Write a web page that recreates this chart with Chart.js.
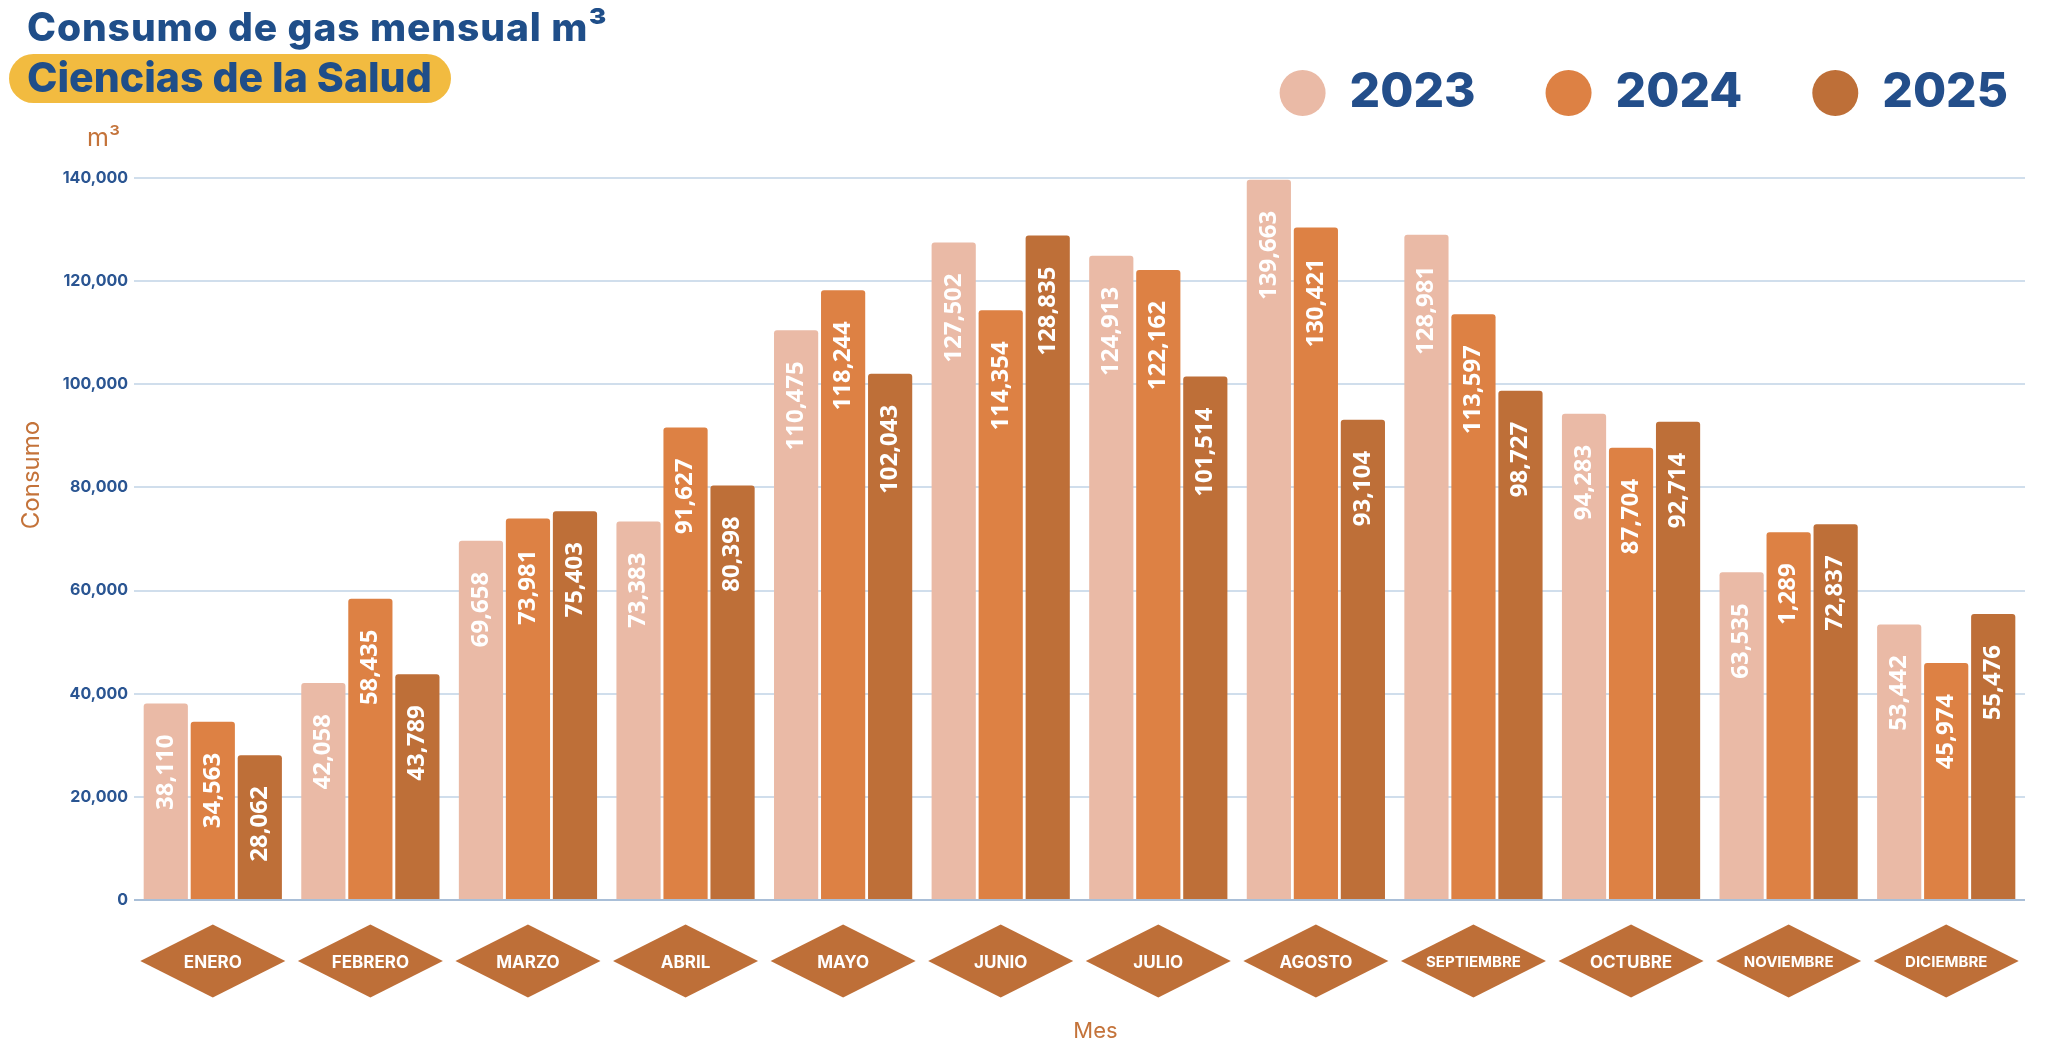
<!DOCTYPE html>
<html lang="es">
<head>
<meta charset="utf-8">
<title>Consumo de gas mensual m³ - Ciencias de la Salud</title>
<script src="https://cdn.jsdelivr.net/npm/chart.js@4.4.1/dist/chart.umd.min.js"></script>
<style>
  html, body { margin: 0; padding: 0; background: #ffffff; }
  #wrap { position: relative; width: 2066px; height: 1064px; overflow: hidden; }
  #chart { position: absolute; left: 0; top: 0; }
  .title { position: absolute; left: 27px; top: 7px; margin: 0; font-family: Inter, "Open Sans", sans-serif;
           font-weight: 800; font-size: 39px; line-height: 1; letter-spacing: 0.9px; color: #1F4E89; white-space: nowrap; z-index: 2; }
  .pill { position: absolute; left: 9px; top: 54px; width: 442px; height: 49px; border-radius: 25px; background: #F2BB40; z-index: 1; }
  .subtitle { position: absolute; left: 27px; top: 57px; margin: 0; font-family: Inter, "Open Sans", sans-serif;
              font-weight: 800; font-size: 41px; line-height: 1; color: #1F4E89; white-space: nowrap; z-index: 2; }
</style>
</head>
<body>
<div id="wrap">
  <canvas id="chart"></canvas>
  <div class="pill"></div>
  <h1 class="title">Consumo de gas mensual m³</h1>
  <h2 class="subtitle">Ciencias de la Salud</h2>
</div>
<script>
// ---------- DATA ----------
const months = ['ENERO', 'FEBRERO', 'MARZO', 'ABRIL', 'MAYO', 'JUNIO', 'JULIO', 'AGOSTO', 'SEPTIEMBRE', 'OCTUBRE', 'NOVIEMBRE', 'DICIEMBRE'];
const seriesNames = ['2023', '2024', '2025'];
const values2023 = [38110, 42058, 69658, 73383, 110475, 127502, 124913, 139663, 128981, 94283, 63535, 53442];
const values2024 = [34563, 58435, 73981, 91627, 118244, 114354, 122162, 130421, 113597, 87704, 71289, 45974];
const values2025 = [28062, 43789, 75403, 80398, 102043, 128835, 101514, 93104, 98727, 92714, 72837, 55476];
// label printed on the bar when it differs from the formatted value (as shown in the original)
const labelOverrides = [{ series: 1, index: 10, text: '1,289' }];
const yTicksMin = 0;
const yTicksMax = 140000;
const yTicksStep = 20000;
const yAxisTitle = 'Consumo';
const xAxisTitle = 'Mes';
const unitLabel = 'm³';

// ---------- STYLE ----------
const COLORS = ['#EABAA6', '#DD8144', '#BE6F38'];
const DIAMOND = '#BE6F38';
const ORANGE_TEXT = '#C4733A';
const FONT = 'Inter, "Open Sans", sans-serif';
const LABEL_FONT = '"Open Sans", Inter, sans-serif';

const LEGEND_FONT = 48;
const LEGEND_PAD = 70;
const LEGEND_CENTER_Y = 93;
const LEGEND_RIGHT = 2078;   // right edge of the legend box (last text ends LEGEND_PAD before it)
const PLOT_TOP = 178;
const RIGHT_GAP = 41;
const layoutTop = PLOT_TOP - (LEGEND_FONT + LEGEND_PAD + 10);

const fmt = v => v.toLocaleString('en-US');
function labelText(si, i, v) {
  const o = labelOverrides.find(e => e.series === si && e.index === i);
  return o ? o.text : fmt(v);
}

const legendShift = {
  id: 'legendShift',
  afterLayout(chart) {
    const lg = chart.legend;
    if (!lg) return;
    const dy = (lg.top + LEGEND_PAD + LEGEND_FONT / 2) - LEGEND_CENTER_Y;
    lg.top -= dy; lg.bottom -= dy;
    const dx = LEGEND_RIGHT - lg.right;
    lg.right += dx; lg.left += dx;
  }
};

const diamonds = {
  id: 'diamonds',
  beforeDraw(chart) {
    const { ctx, scales: { x }, chartArea } = chart;
    const cy = chartArea.bottom + 61;
    const hw = 72.5, hh = 36.5;
    ctx.save();
    ctx.fillStyle = DIAMOND;
    for (let i = 0; i < months.length; i++) {
      const cx = x.getPixelForTick(i);
      ctx.beginPath();
      ctx.moveTo(cx, cy - hh);
      ctx.lineTo(cx + hw, cy);
      ctx.lineTo(cx, cy + hh);
      ctx.lineTo(cx - hw, cy);
      ctx.closePath();
      ctx.fill();
    }
    ctx.restore();
  }
};

const barLabels = {
  id: 'barLabels',
  afterDatasetsDraw(chart) {
    const { ctx } = chart;
    ctx.save();
    ctx.font = '700 24px ' + LABEL_FONT;
    ctx.fillStyle = '#FFFFFF';
    ctx.textAlign = 'right';
    ctx.textBaseline = 'middle';
    chart.data.datasets.forEach((ds, si) => {
      const meta = chart.getDatasetMeta(si);
      meta.data.forEach((bar, i) => {
        ctx.save();
        ctx.translate(bar.x, bar.y + 31);
        ctx.rotate(-Math.PI / 2);
        ctx.fillText(labelText(si, i, ds.data[i]), 0, 0);
        ctx.restore();
      });
    });
    ctx.restore();
  }
};

const axisTexts = {
  id: 'axisTexts',
  afterDraw(chart) {
    const { ctx, chartArea } = chart;
    ctx.save();
    ctx.fillStyle = ORANGE_TEXT;
    ctx.textBaseline = 'alphabetic';
    ctx.font = '400 25px ' + FONT;
    ctx.textAlign = 'left';
    ctx.fillText(unitLabel, 87, chartArea.top - 32);
    ctx.font = '400 22px ' + FONT;
    ctx.textAlign = 'center';
    ctx.fillText(xAxisTitle, (chartArea.left + chartArea.right) / 2 + 16, 1038);
    ctx.translate(32, 475);
    ctx.rotate(-Math.PI / 2);
    ctx.font = '400 24px ' + FONT;
    ctx.textAlign = 'center';
    ctx.textBaseline = 'middle';
    ctx.fillText(yAxisTitle, 0, 0);
    ctx.restore();
  }
};

const seriesValues = [values2023, values2024, values2025];

new Chart(document.getElementById('chart'), {
  type: 'bar',
  data: {
    labels: months,
    datasets: seriesNames.map((name, si) => ({
      label: name,
      data: seriesValues[si],
      backgroundColor: COLORS[si],
      borderWidth: 0,
      borderRadius: 3,
      borderSkipped: 'start',
      categoryPercentage: 0.895,
      barPercentage: 0.94
    }))
  },
  options: {
    responsive: true,
    maintainAspectRatio: false,
    animation: false,
    devicePixelRatio: 1,
    layout: { padding: { top: layoutTop, right: RIGHT_GAP, bottom: 0, left: 0 } },
    plugins: {
      legend: {
        position: 'top',
        align: 'end',
        labels: {
          usePointStyle: true,
          pointStyle: 'circle',
          boxHeight: 46 / Math.SQRT2,
          pointStyleWidth: 46,
          padding: LEGEND_PAD,
          color: '#234E8A',
          font: { family: FONT, size: LEGEND_FONT, weight: '800' }
        }
      },
      tooltip: { enabled: false },
      title: { display: false }
    },
    scales: {
      x: {
        type: 'category',
        grid: { display: false, drawTicks: false },
        border: { display: false },
        ticks: {
          color: '#FFFFFF',
          padding: 53,
          autoSkip: false,
          maxRotation: 0,
          font: (c) => {
            const lbl = months[c.index] || '';
            return { family: FONT, weight: '700', size: lbl.length >= 9 ? 15 : 17 };
          }
        },
        afterFit(scale) { scale.height = 1064 - 900; }
      },
      y: {
        min: yTicksMin,
        max: yTicksMax,
        grid: {
          drawTicks: false,
          lineWidth: 2,
          color: (c) => (c.tick && c.tick.value === 0) ? '#A9BFD8' : '#D0DEEC'
        },
        border: { display: false },
        ticks: {
          stepSize: yTicksStep,
          padding: 6,
          color: '#2A5592',
          font: { family: FONT, size: 16, weight: '700' },
          callback: (v) => fmt(v)
        },
        afterFit(scale) { scale.width = 134; }
      }
    }
  },
  plugins: [legendShift, diamonds, barLabels, axisTexts]
});
</script>
</body>
</html>
